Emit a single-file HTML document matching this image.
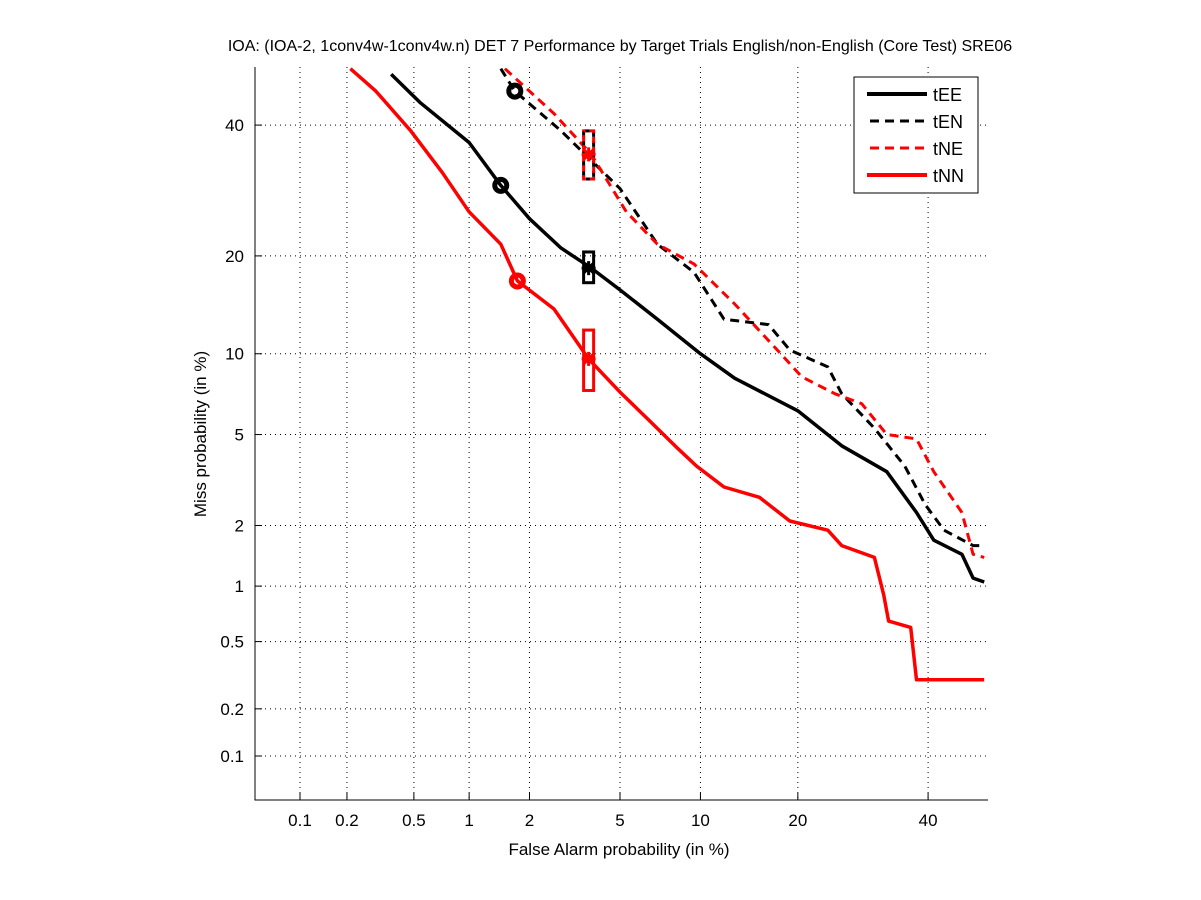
<!DOCTYPE html>
<html><head><meta charset="utf-8"><style>
body{margin:0;background:#fff;}
svg{display:block;font-family:"Liberation Sans",sans-serif;}
</style></head><body>
<svg id="chart" width="1201" height="900" viewBox="0 0 1201 900" xmlns="http://www.w3.org/2000/svg">
<rect x="0" y="0" width="1201" height="900" fill="#fff"/>
<text x="620" y="51" text-anchor="middle" font-size="16">IOA: (IOA-2, 1conv4w-1conv4w.n) DET 7 Performance by Target Trials English/non-English (Core Test) SRE06</text>
<g id="grid"></g>
<g id="series"></g>
<path d="M255,67 L255,800 L988,800" fill="none" stroke="#000" stroke-width="1"/>
<g id="ticks"></g>
<text x="619" y="855" text-anchor="middle" font-size="17">False Alarm probability (in %)</text>
<text transform="translate(206,434) rotate(-90)" text-anchor="middle" font-size="17">Miss probability (in %)</text>
<g>
<rect x="854" y="77" width="124" height="116" fill="#fff" stroke="#000"/>
<g><line x1="867" y1="94" x2="927" y2="94" stroke="#000" stroke-width="4"/><text x="933" y="101" font-size="18">tEE</text></g>
<g><line x1="870" y1="121" x2="927" y2="121" stroke="#000" stroke-width="3" stroke-dasharray="9,6"/><text x="933" y="128" font-size="18">tEN</text></g>
<g><line x1="870" y1="148" x2="927" y2="148" stroke="#f00" stroke-width="3" stroke-dasharray="9,6"/><text x="933" y="155" font-size="18">tNE</text></g>
<g><line x1="867" y1="175" x2="927" y2="175" stroke="#f00" stroke-width="4"/><text x="933" y="182" font-size="18">tNN</text></g>
</g>
</svg>
<script>
const tickValues=[0.1,0.2,0.5,1,2,5,10,20,40];
const tickLabels=["0.1","0.2","0.5","1","2","5","10","20","40"];
const teeFA=[0.37,0.54,1.0,1.45,2.0,2.8,3.8,5.0,7.0,10,13,20,26,33,38,41,46,48,50];
const teeMiss=[49,44,37,30,25,21,18.5,16,13,10,8.2,6.2,4.5,3.5,2.3,1.7,1.45,1.1,1.05];
const tenFA=[1.45,1.7,2.8,3.8,5.0,7.0,9.5,12,16.5,19,24,26,31,36,39.5,42.8,48,50];
const tenMiss=[50,46,39,34,29.5,21.5,18,13,12.5,10.3,9,7.2,5.3,3.7,2.5,1.9,1.6,1.6];
const tneFA=[1.52,2.6,3.8,5.3,7.0,9.5,13,17.5,20.5,25,29,33,38,41,46,48,50];
const tneMiss=[50,42,35,26,21.5,19,14.5,10.3,8.3,7.2,6.6,5.0,4.8,3.5,2.3,1.45,1.4];
const tnnFA=[0.21,0.3,0.48,0.72,1.0,1.45,1.75,2.6,3.7,5.0,6.5,8.3,9.7,12,15.5,19,24,26,31,32.5,33.3,37,38,50];
const tnnMiss=[50,46,39,32,26,21.5,17,14,9.6,7.3,5.7,4.4,3.7,3.0,2.7,2.1,1.9,1.6,1.4,0.9,0.65,0.6,0.3,0.3];
const circles=[{fa:1.45,miss:30,c:"#000"},{fa:1.75,miss:17,c:"#f00"},{fa:1.7,miss:46,c:"#000"}];
const boxes=[{fa:3.7,lo:31,hi:39,c:"#000",dash:"6,4"},{fa:3.7,lo:31,hi:39,c:"#f00",dash:"6,4",off:4},{fa:3.7,lo:16.8,hi:20.5,c:"#000",dash:""},{fa:3.7,lo:7.4,hi:12,c:"#f00",dash:""}];
const stars=[{fa:3.7,miss:35,c:"#f00"},{fa:3.7,miss:18.5,c:"#000"},{fa:3.7,miss:9.6,c:"#f00"}];

function probit(p){
  const a=[-39.69683028665376,220.9460984245205,-275.9285104469687,138.3577518672690,-30.66479806614716,2.506628277459239];
  const b=[-54.47609879822406,161.5858368580409,-155.6989798598866,66.80131188771972,-13.28068155288572];
  const c=[-0.007784894002430293,-0.3223964580411365,-2.400758277161838,-2.549732539343734,4.374664141464968,2.938163982698783];
  const d=[0.007784695709041462,0.3224671290700398,2.445134137142996,3.754408661907416];
  const pl=0.02425;let q,r;
  if(p<pl){q=Math.sqrt(-2*Math.log(p));return (((((c[0]*q+c[1])*q+c[2])*q+c[3])*q+c[4])*q+c[5])/((((d[0]*q+d[1])*q+d[2])*q+d[3])*q+1);}
  if(p<=1-pl){q=p-0.5;r=q*q;return (((((a[0]*r+a[1])*r+a[2])*r+a[3])*r+a[4])*r+a[5])*q/(((((b[0]*r+b[1])*r+b[2])*r+b[3])*r+b[4])*r+1);}
  q=Math.sqrt(-2*Math.log(1-p));return -(((((c[0]*q+c[1])*q+c[2])*q+c[3])*q+c[4])*q+c[5])/((((d[0]*q+d[1])*q+d[2])*q+d[3])*q+1);
}
const X0=300,XS=221.4,Y0=756,YS=222.4,P1=probit(0.001);
function xs(v){return X0+(probit(v/100)-P1)*XS;}
function ys(v){return Y0-(probit(v/100)-P1)*YS;}
const NS="http://www.w3.org/2000/svg";
function mk(tag,attrs,parent){const e=document.createElementNS(NS,tag);for(const k in attrs)e.setAttribute(k,attrs[k]);parent.appendChild(e);return e;}
const grid=document.getElementById('grid'),ticks=document.getElementById('ticks'),ser=document.getElementById('series');
tickValues.forEach((v,i)=>{
  const x=xs(v),y=ys(v);
  const gx=mk('line',{x1:x,y1:67,x2:x,y2:800,stroke:"#000","stroke-width":1,"stroke-dasharray":"1,4"},grid);
  
  
  const gy=mk('line',{x1:255,y1:y,x2:988,y2:y,stroke:"#000","stroke-width":1,"stroke-dasharray":"1,4"},grid);
  
  
  const mx=mk('line',{x1:x,y1:800,x2:x,y2:793,stroke:"#000","stroke-width":1},ticks);
  
  
  const my=mk('line',{x1:255,y1:y,x2:262,y2:y,stroke:"#000","stroke-width":1},ticks);
  
  
  const tx=mk('text',{x:x,y:826,"text-anchor":"middle","font-size":17},ticks);tx.textContent=tickLabels[i];
  
  
  const ty=mk('text',{x:244,y:y+6,"text-anchor":"end","font-size":17},ticks);ty.textContent=tickLabels[i];
  
  
});
function line(fa,miss,col,dash,name){
  const pts=fa.map((f,i)=>xs(f).toFixed(1)+","+ys(miss[i]).toFixed(1)).join(" ");
  const p=mk('polyline',{points:pts,fill:"none",stroke:col,"stroke-width":dash?3:3.5,"stroke-dasharray":dash||"none","stroke-linejoin":"round"},ser);
  
  
}
line(teeFA,teeMiss,"#000","","series-tee");
line(tenFA,tenMiss,"#000","9,6","series-ten");
line(tneFA,tneMiss,"#f00","9,6","series-tne");
line(tnnFA,tnnMiss,"#f00","","series-tnn");
circles.forEach(c=>{
  const e=mk('circle',{cx:xs(c.fa),cy:ys(c.miss),r:6,fill:"none",stroke:c.c,"stroke-width":5},ser);
  
  
});
boxes.forEach(b=>{
  const y1=ys(b.hi),y2=ys(b.lo);
  const e=mk('rect',{x:xs(b.fa)-5,y:y1,width:10,height:y2-y1,fill:"none",stroke:b.c,"stroke-width":3,"stroke-dasharray":b.dash||"none","stroke-dashoffset":b.off||0},ser);
  
  
});
stars.forEach(s=>{
  const x=xs(s.fa),y=ys(s.miss);
  const e=mk('path',{d:`M${x-7},${y}L${x+7},${y}M${x},${y-7}L${x},${y+7}M${x-5},${y-5}L${x+5},${y+5}M${x-5},${y+5}L${x+5},${y-5}`,stroke:s.c,"stroke-width":3},ser);
  
  
});
</script>
</body></html>
